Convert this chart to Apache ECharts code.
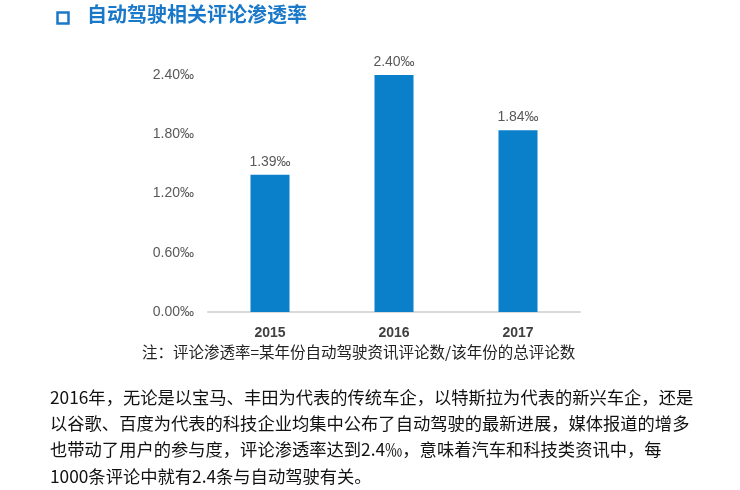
<!DOCTYPE html>
<html>
<head>
<meta charset="utf-8">
<script src="https://cdn.jsdelivr.net/npm/echarts@6/dist/echarts.min.js"></script>
<style>
html, body { margin: 0; padding: 0; background: #fff; }
#chart { width: 740px; height: 490px; }
</style>
</head>
<body>
<div id="chart"></div>
<script>
// 数据
const years = ['2015', '2016', '2017'];
const rates = [1.39, 2.40, 1.84]; // 评论渗透率（‰）
const yTicks = [0, 0.6, 1.2, 1.8, 2.4];

const titleText = '自动驾驶相关评论渗透率';
const noteText = '注：评论渗透率=某年份自动驾驶资讯评论数/该年份的总评论数';
const bodyLines = [
    '2016年，无论是以宝马、丰田为代表的传统车企，以特斯拉为代表的新兴车企，还是',
    '以谷歌、百度为代表的科技企业均集中公布了自动驾驶的最新进展，媒体报道的增多',
    '也带动了用户的参与度，评论渗透率达到2.4‰，意味着汽车和科技类资讯中，每',
    '1000条评论中就有2.4条与自动驾驶有关。'
];

const FONT = '"Liberation Sans", Arial, "Noto Sans CJK SC", sans-serif';
const CJK = '"Noto Sans CJK SC", "Liberation Sans", sans-serif';

const chart = echarts.init(document.getElementById('chart'));

chart.setOption({
    animation: false,
    backgroundColor: '#fff',
    grid: { // 四边距离
        left: 208,
        right: 160,
        top: 75,
        bottom: 178
    },
    xAxis: {
        type: 'category',
        data: years,
        axisLine: { lineStyle: { color: '#d9d9d9', width: 2 } },
        axisTick: { show: false },
        axisLabel: {
            color: '#404040',
            fontWeight: 'bold',
            fontSize: 14,
            fontFamily: FONT,
            margin: 14
        }
    },
    yAxis: {
        type: 'value',
        min: yTicks[0],
        max: yTicks[yTicks.length - 1],
        interval: 0.6,
        splitLine: { show: false },
        axisLine: { show: false },
        axisTick: { show: false },
        axisLabel: {
            color: '#595959',
            fontSize: 14,
            fontFamily: FONT,
            margin: 14,
            formatter: v => v.toFixed(2) + '‰'
        }
    },
    series: [{
        type: 'bar',
        data: rates,
        barWidth: 39,
        itemStyle: { color: '#0a7fca' },
        label: {
            show: true,
            position: 'top',
            distance: 6,
            color: '#595959',
            fontSize: 14,
            fontFamily: FONT,
            formatter: p => p.value.toFixed(2) + '‰'
        }
    }],
    graphic: [
        {
            type: 'rect',
            shape: { x: 57.5, y: 12.5, width: 11, height: 11 },
            style: { fill: 'none', stroke: '#1a78c8', lineWidth: 2.5 }
        },
        {
            type: 'text',
            left: 87,
            top: 4,
            style: {
                text: titleText,
                fill: '#1a78c8',
                font: 'bold 20px ' + CJK
            }
        },
        {
            type: 'text',
            left: 142,
            top: 344,
            style: {
                text: noteText,
                fill: '#222',
                font: '15.5px ' + CJK
            }
        },
        {
            type: 'text',
            left: 50,
            top: 384,
            style: {
                text: bodyLines.join('\n'),
                fill: '#111',
                font: '17.3px ' + CJK,
                lineHeight: 26.3
            }
        }
    ]
});
</script>
</body>
</html>
